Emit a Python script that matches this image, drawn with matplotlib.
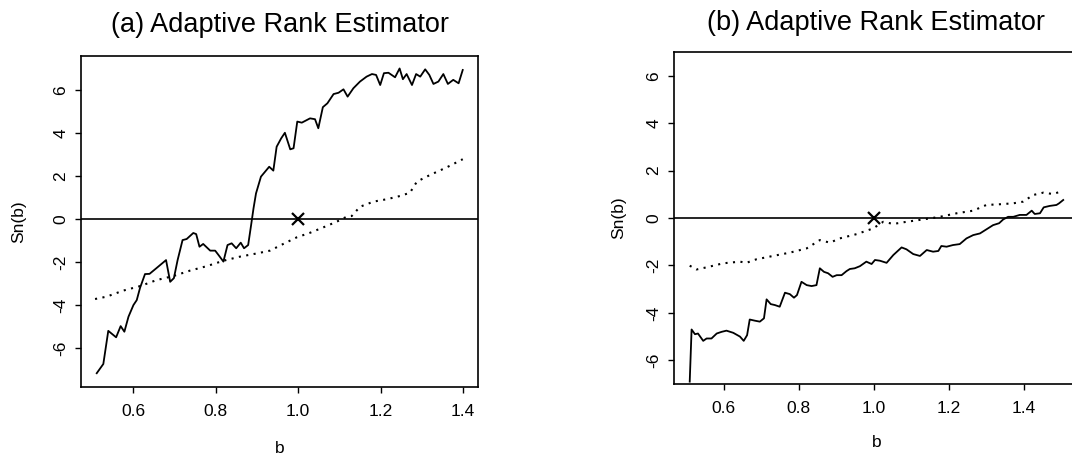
import numpy as np
import matplotlib.pyplot as plt

plt.rcParams['font.family'] = ['Liberation Sans', 'DejaVu Sans']

# panel (a): solid curve
a_solid_b = [0.512, 0.528, 0.540, 0.559, 0.570, 0.579, 0.589, 0.601, 0.609, 0.617,
             0.629, 0.640, 0.657, 0.680, 0.690, 0.699, 0.708, 0.720, 0.730, 0.746,
             0.753, 0.761, 0.770, 0.787, 0.799, 0.807, 0.819, 0.829, 0.839, 0.850,
             0.861, 0.869, 0.879, 0.886, 0.892, 0.898, 0.910, 0.920, 0.930, 0.940,
             0.948, 0.959, 0.968, 0.981, 0.989, 0.998, 1.009, 1.029, 1.041, 1.049,
             1.060, 1.071, 1.086, 1.098, 1.110, 1.120, 1.134, 1.150, 1.166, 1.179,
             1.189, 1.199, 1.208, 1.219, 1.235, 1.246, 1.254, 1.263, 1.276, 1.286,
             1.296, 1.308, 1.318, 1.328, 1.340, 1.352, 1.363, 1.376, 1.389, 1.399]
a_solid_s = [-7.17, -6.74, -5.20, -5.50, -4.98, -5.24, -4.54, -4.00, -3.77, -3.20,
             -2.56, -2.55, -2.28, -1.91, -2.92, -2.75, -1.91, -0.98, -0.93, -0.65,
             -0.70, -1.29, -1.16, -1.47, -1.47, -1.67, -1.98, -1.21, -1.13, -1.36,
             -1.10, -1.36, -1.21, -0.30, 0.50, 1.19, 1.97, 2.20, 2.43, 2.25,
             3.36, 3.75, 4.01, 3.24, 3.29, 4.53, 4.48, 4.68, 4.64, 4.22,
             5.20, 5.38, 5.81, 5.87, 6.03, 5.69, 6.08, 6.39, 6.62, 6.74,
             6.70, 6.23, 6.78, 6.80, 6.59, 7.00, 6.50, 6.74, 6.23, 6.74,
             6.62, 6.96, 6.70, 6.28, 6.39, 6.74, 6.28, 6.47, 6.31, 6.93]

# panel (a): dotted curve
a_dot_b = [0.508, 0.536, 0.576, 0.617, 0.657, 0.698, 0.738, 0.779, 0.819, 0.859,
           0.900, 0.932, 0.964, 0.997, 1.029, 1.061, 1.094, 1.118, 1.130, 1.150,
           1.183, 1.215, 1.247, 1.271, 1.288, 1.320, 1.360, 1.399]
a_dot_s = [-3.72, -3.61, -3.33, -3.12, -2.84, -2.65, -2.40, -2.19, -1.94, -1.75,
           -1.60, -1.47, -1.16, -0.85, -0.64, -0.39, -0.12, 0.11, 0.14, 0.57,
           0.81, 0.92, 1.07, 1.22, 1.74, 2.05, 2.40, 2.78]

# panel (b): solid curve
b_solid_b = [0.509, 0.514, 0.523, 0.531, 0.545, 0.554, 0.567, 0.581, 0.594, 0.607,
             0.625, 0.643, 0.653, 0.662, 0.669, 0.683, 0.696, 0.707, 0.714, 0.725,
             0.736, 0.749, 0.763, 0.776, 0.787, 0.795, 0.807, 0.821, 0.834, 0.847,
             0.856, 0.867, 0.878, 0.890, 0.901, 0.914, 0.927, 0.936, 0.949, 0.963,
             0.980, 0.994, 1.003, 1.016, 1.034, 1.052, 1.074, 1.087, 1.105, 1.123,
             1.141, 1.158, 1.172, 1.180, 1.194, 1.211, 1.229, 1.247, 1.265, 1.283,
             1.300, 1.318, 1.334, 1.345, 1.358, 1.372, 1.389, 1.407, 1.421, 1.429,
             1.443, 1.453, 1.469, 1.487, 1.494, 1.505]
b_solid_s = [-6.90, -4.70, -4.90, -4.87, -5.18, -5.08, -5.08, -4.87, -4.80, -4.75,
             -4.84, -5.00, -5.18, -4.94, -4.28, -4.33, -4.37, -4.23, -3.43, -3.63,
             -3.67, -3.74, -3.15, -3.21, -3.36, -3.25, -2.69, -2.83, -2.87, -2.83,
             -2.12, -2.27, -2.33, -2.48, -2.41, -2.41, -2.24, -2.15, -2.12, -2.03,
             -1.84, -1.94, -1.77, -1.80, -1.89, -1.56, -1.24, -1.32, -1.52, -1.60,
             -1.35, -1.42, -1.39, -1.18, -1.21, -1.14, -1.10, -0.86, -0.72, -0.65,
             -0.48, -0.30, -0.22, -0.06, 0.05, 0.05, 0.13, 0.13, 0.31, 0.17,
             0.20, 0.45, 0.51, 0.55, 0.62, 0.76]

# panel (b): dotted curve
b_dot_b = [0.509, 0.527, 0.554, 0.598, 0.643, 0.660, 0.687, 0.731, 0.776, 0.821,
           0.856, 0.883, 0.909, 0.954, 0.998, 1.025, 1.052, 1.087, 1.131, 1.176,
           1.221, 1.265, 1.300, 1.336, 1.372, 1.398, 1.425, 1.452, 1.478, 1.505]
b_dot_s = [-2.01, -2.17, -2.08, -1.91, -1.84, -1.89, -1.74, -1.60, -1.46, -1.28,
           -0.93, -1.04, -0.86, -0.68, -0.44, -0.16, -0.25, -0.16, -0.06, 0.05,
           0.20, 0.31, 0.55, 0.58, 0.62, 0.69, 0.97, 1.07, 1.01, 1.15]

x_ticks = [0.6, 0.8, 1.0, 1.2, 1.4]
y_ticks = [-6, -4, -2, 0, 2, 4, 6]

fig = plt.figure(figsize=(10.72, 4.57), dpi=100)
ax_a = fig.add_axes([0.0756, 0.1532, 0.3703, 0.7243])
ax_b = fig.add_axes([0.6287, 0.1597, 0.3778, 0.7265])

panels = [
    (ax_a, '(a) Adaptive Rank Estimator', a_solid_b, a_solid_s, a_dot_b, a_dot_s,
     (0.474, 1.436), (-7.81, 7.58), -0.163, -0.139, 17),
    (ax_b, '(b) Adaptive Rank Estimator', b_solid_b, b_solid_s, b_dot_b, b_dot_s,
     (0.467, 1.547), (-7.0, 7.0), -0.154, -0.119, 16),
]

for ax, title, sb, ss, db, ds, xl, yl, xlab_y, ylab_x, tpad in panels:
    ax.plot(sb, ss, color='black', lw=1.3)
    ax.plot(db, ds, color='black', lw=1.5, linestyle=(0, (1, 2.6)))
    ax.axhline(0, color='black', lw=1.2)
    ax.plot([1.0], [0.0], marker='x', color='black', ms=9, mew=1.6, ls='none')
    ax.set_xlim(*xl)
    ax.set_ylim(*yl)
    ax.set_xticks(x_ticks)
    ax.set_xticklabels([f'{t:.1f}' for t in x_ticks])
    ax.set_yticks(y_ticks)
    ax.set_yticklabels([str(t) for t in y_ticks], rotation=90, va='center')
    ax.tick_params(direction='out', length=4, width=1, labelsize=12.5)
    ax.tick_params(axis='x', pad=8)
    ax.tick_params(axis='y', pad=5)
    for sp in ax.spines.values():
        sp.set_linewidth(1.2)
    ax.set_xlabel('b', fontsize=12.5)
    ax.set_ylabel('Sn(b)', fontsize=12.5)
    ax.xaxis.set_label_coords(0.5, xlab_y)
    ax.yaxis.set_label_coords(ylab_x, 0.5)
    ax.set_title(title, fontsize=19.5, pad=tpad)

fig.savefig('out.png', dpi=100)
